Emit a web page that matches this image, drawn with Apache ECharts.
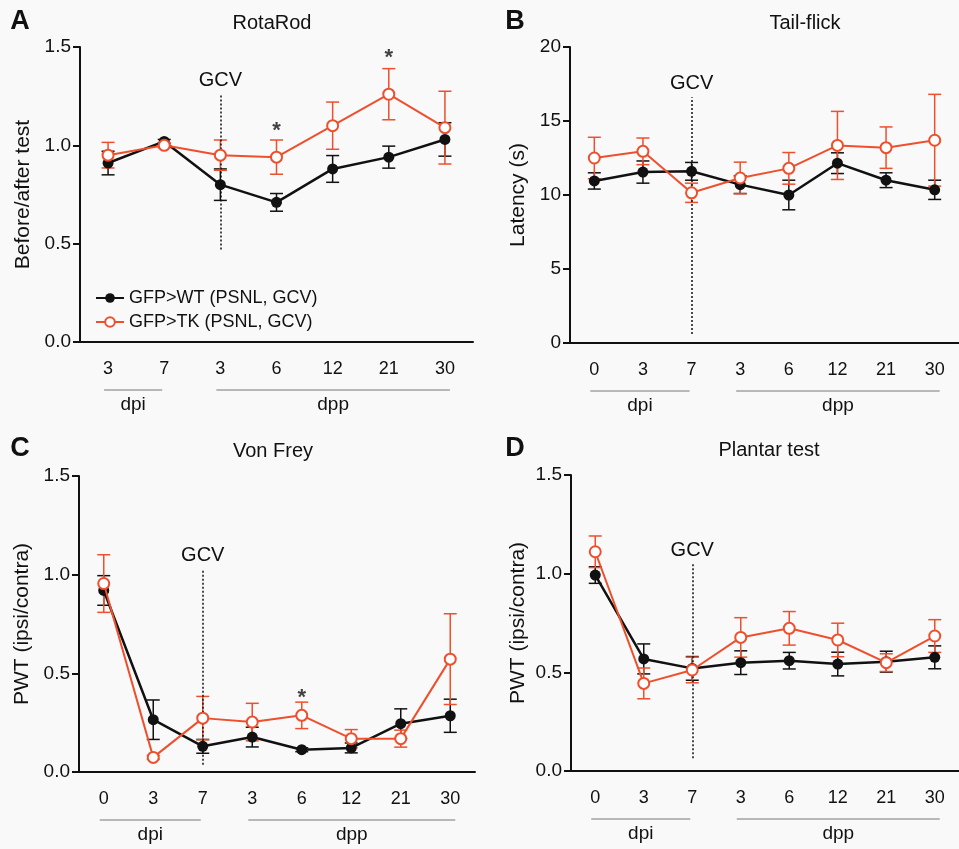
<!DOCTYPE html>
<html>
<head>
<meta charset="utf-8">
<title>PSNL behaviour</title>
<script src="https://cdn.jsdelivr.net/npm/echarts@6/dist/echarts.min.js"></script>
<style>
html, body {margin: 0; padding: 0; background: #f9f9f9;}
#main {width: 959px; height: 849px;}
</style>
</head>
<body>
<div id="main"></div>
<script>
// x categories (days post injury / post GCV)
var catsA = ['3', '7', '3', '6', '12', '21', '30'];
var catsB = ['0', '3', '7', '3', '6', '12', '21', '30'];

// A RotaRod
var wtA = [0.91, 1.02, 0.80, 0.71, 0.88, 0.94, 1.03];
var wtErrA = [0.06, 0.01, 0.08, 0.045, 0.068, 0.056, 0.085];
var tkA = [0.95, 1.00, 0.95, 0.94, 1.10, 1.26, 1.09];
var tkErrA = [0.065, 0.012, 0.077, 0.087, 0.12, 0.13, 0.185];

// B Tail-flick
var wtB = [10.95, 11.55, 11.6, 10.7, 10.0, 12.15, 11.0, 10.35];
var wtErrB = [0.55, 0.75, 0.6, 0.6, 1.0, 0.7, 0.5, 0.65];
var tkB = [12.5, 12.95, 10.15, 11.15, 11.8, 13.35, 13.2, 13.7];
var tkErrB = [1.4, 0.9, 0.65, 1.07, 1.07, 2.3, 1.4, 3.1];

// C Von Frey
var wtC = [0.92, 0.265, 0.13, 0.177, 0.113, 0.122, 0.245, 0.285];
var wtErrC = [0.075, 0.1, 0.035, 0.05, 0.01, 0.025, 0.075, 0.084];
var tkC = [0.955, 0.074, 0.273, 0.253, 0.287, 0.169, 0.169, 0.572];
var tkErrC = [0.146, 0.01, 0.11, 0.095, 0.067, 0.046, 0.043, 0.23];

// D Plantar test
var wtD = [0.993, 0.568, 0.52, 0.549, 0.559, 0.542, 0.554, 0.576];
var wtErrD = [0.042, 0.076, 0.06, 0.06, 0.042, 0.06, 0.053, 0.058];
var tkD = [1.111, 0.444, 0.512, 0.677, 0.723, 0.664, 0.549, 0.684];
var tkErrD = [0.08, 0.078, 0.065, 0.1, 0.085, 0.085, 0.045, 0.083];

// GCV dotted line: [category index, from, to]
var gcvA = [2, 0.47, 1.26];
var gcvB = [2, 0.6, 16.6];
var gcvC = [2, 0.037, 1.024];
var gcvD = [2, 0.064, 1.049];

// significance stars [category index, y]
var starsA = [[3, 1.10], [5, 1.47]];
var starsC = [[4, 0.40]];

var nameWT = 'GFP>WT (PSNL, GCV)';
var nameTK = 'GFP>TK (PSNL, GCV)';

var black = '#111';
var red = '#ee4f2c';
var font = '"Liberation Sans", Arial, sans-serif';

var chart = echarts.init(document.getElementById('main'));

function errData (mean, err) {
    var out = [];
    for (var i = 0; i < mean.length; i++) {
        out.push([i, mean[i] - err[i], mean[i] + err[i]]);
    }
    return out;
}

//error bars
function errSeries (idx, mean, err, color) {
    return {
        type: 'custom',
        xAxisIndex: idx,
        yAxisIndex: idx,
        silent: true,
        z: 3,
        encode: {x: 0, y: [1, 2]},
        data: errData(mean, err),
        renderItem: function (params, api) {
            var hi = api.coord([api.value(0), api.value(2)]);
            var lo = api.coord([api.value(0), api.value(1)]);
            var w = 6.5;
            var st = {stroke: color, lineWidth: 1.5};
            return {
                type: 'group',
                children: [
                    {type: 'line', shape: {x1: hi[0], y1: hi[1], x2: lo[0], y2: lo[1]}, style: st},
                    {type: 'line', shape: {x1: hi[0] - w, y1: hi[1], x2: hi[0] + w, y2: hi[1]}, style: st},
                    {type: 'line', shape: {x1: lo[0] - w, y1: lo[1], x2: lo[0] + w, y2: lo[1]}, style: st}
                ]
            };
        }
    };
}

function wtSeries (idx, mean, gcv) {
    return {
        name: nameWT,
        type: 'line',
        xAxisIndex: idx,
        yAxisIndex: idx,
        data: mean,
        symbol: 'circle',
        symbolSize: 11,
        z: 4,
        itemStyle: {color: black},
        lineStyle: {color: black, width: 2.5},
        markLine: {
            silent: true,
            symbol: 'none',
            lineStyle: {color: black, type: [2, 2], width: 1.5},
            label: {show: true, position: 'end', formatter: 'GCV', fontSize: 20, color: black, fontFamily: font, distance: 4},
            data: [[{coord: [gcv[0], gcv[1]]}, {coord: [gcv[0], gcv[2]]}]]
        }
    };
}

function tkSeries (idx, mean) {
    return {
        name: nameTK,
        type: 'line',
        xAxisIndex: idx,
        yAxisIndex: idx,
        data: mean,
        symbol: 'emptyCircle',
        symbolSize: 11,
        z: 5,
        itemStyle: {color: red, borderWidth: 2},
        lineStyle: {color: red, width: 2}
    };
}

function starSeries (idx, pts) {
    return {
        type: 'scatter',
        xAxisIndex: idx,
        yAxisIndex: idx,
        data: pts,
        symbolSize: 2,
        z: 6,
        itemStyle: {color: 'rgba(0,0,0,0)'},
        silent: true,
        label: {show: true, position: 'inside', formatter: '*', fontSize: 22, fontWeight: 'bold', color: black, fontFamily: font, offset: [0, 5]}
    };
}

function xAxis (idx, cats) {
    return {
        type: 'category',
        gridIndex: idx,
        data: cats,
        boundaryGap: true,
        axisLine: {lineStyle: {color: black, width: 2}},
        axisTick: {alignWithLabel: true, length: 7, lineStyle: {color: black, width: 2}},
        axisLabel: {color: black, fontSize: 18, margin: 18, fontFamily: font}
    };
}

function yAxis (idx, name, max, interval, digits, gap) {
    return {
        type: 'value',
        gridIndex: idx,
        min: 0,
        max: max,
        interval: interval,
        name: name,
        nameLocation: 'middle',
        nameRotate: 90,
        nameGap: gap,
        nameTextStyle: {fontSize: 21, color: black, fontFamily: font},
        axisLine: {show: true, lineStyle: {color: black, width: 2}},
        axisTick: {show: true, length: 7, lineStyle: {color: black, width: 2}},
        splitLine: {show: false},
        axisLabel: {
            color: black, fontSize: 19, margin: 9, fontFamily: font,
            formatter: function (v) { return v.toFixed(digits); }
        }
    };
}

var option = {
    backgroundColor: '#f9f9f9',
    animation: false,
    grid: [
        {left: 80, top: 47, width: 393, height: 295},
        {left: 570, top: 47, width: 395, height: 296},
        {left: 79, top: 476, width: 396, height: 296},
        {left: 571, top: 475, width: 396, height: 296}
    ],
    xAxis: [xAxis(0, catsA), xAxis(1, catsB), xAxis(2, catsB), xAxis(3, catsB)],
    yAxis: [
        yAxis(0, 'Before/after test', 1.5, 0.5, 1, 46),
        yAxis(1, 'Latency (s)', 20, 5, 0, 41),
        yAxis(2, 'PWT (ipsi/contra)', 1.5, 0.5, 1, 46),
        yAxis(3, 'PWT (ipsi/contra)', 1.5, 0.5, 1, 42)
    ],
    legend: {
        data: [nameWT, nameTK],
        orient: 'vertical',
        left: 90,
        top: 284,
        itemWidth: 28,
        itemHeight: 12,
        itemGap: 6,
        textStyle: {fontSize: 18, color: black, fontFamily: font}
    },
    series: [
        errSeries(0, wtA, wtErrA, black), errSeries(0, tkA, tkErrA, red),
        wtSeries(0, wtA, gcvA), tkSeries(0, tkA), starSeries(0, starsA),
        errSeries(1, wtB, wtErrB, black), errSeries(1, tkB, tkErrB, red),
        wtSeries(1, wtB, gcvB), tkSeries(1, tkB),
        errSeries(2, wtC, wtErrC, black), errSeries(2, tkC, tkErrC, red),
        wtSeries(2, wtC, gcvC), tkSeries(2, tkC), starSeries(2, starsC),
        errSeries(3, wtD, wtErrD, black), errSeries(3, tkD, tkErrD, red),
        wtSeries(3, wtD, gcvD), tkSeries(3, tkD)
    ]
};
chart.setOption(option);

//panel letters, titles and dpi/dpp brackets
var panels = [
    {letter: 'A', title: 'RotaRod', lx: 20, ly: 22, tx: 272, ty: 23, dpi: [0, 1], dpp: [2, 6]},
    {letter: 'B', title: 'Tail-flick', lx: 515, ly: 22, tx: 805, ty: 23, dpi: [0, 2], dpp: [3, 7]},
    {letter: 'C', title: 'Von Frey', lx: 20, ly: 449, tx: 273, ty: 451, dpi: [0, 2], dpp: [3, 7]},
    {letter: 'D', title: 'Plantar test', lx: 515, ly: 449, tx: 769, ty: 450, dpi: [0, 2], dpp: [3, 7]}
];
var graphics = [];
function txt (x, y, s, size, weight) {
    graphics.push({
        type: 'text', x: x, y: y, silent: true,
        style: {text: s, fill: black, font: weight + ' ' + size + 'px ' + font, align: 'center', verticalAlign: 'middle'}
    });
}
function bracket (idx, range, label) {
    var p0 = chart.convertToPixel({gridIndex: idx}, [range[0], 0]);
    var p1 = chart.convertToPixel({gridIndex: idx}, [range[1], 0]);
    var x0 = p0[0] - 4, x1 = p1[0] + (label === 'dpi' ? -2 : 5);
    var y = p0[1] + 48;
    graphics.push({
        type: 'line', silent: true,
        shape: {x1: x0, y1: y, x2: x1, y2: y},
        style: {stroke: '#777', lineWidth: 1}
    });
    txt((x0 + x1) / 2, y + 15, label, 19, 'normal');
}
for (var i = 0; i < panels.length; i++) {
    var p = panels[i];
    txt(p.lx, p.ly, p.letter, 27, 'bold');
    txt(p.tx, p.ty, p.title, 20, 'normal');
    bracket(i, p.dpi, 'dpi');
    bracket(i, p.dpp, 'dpp');
}
chart.setOption({graphic: graphics});
</script>
</body>
</html>
